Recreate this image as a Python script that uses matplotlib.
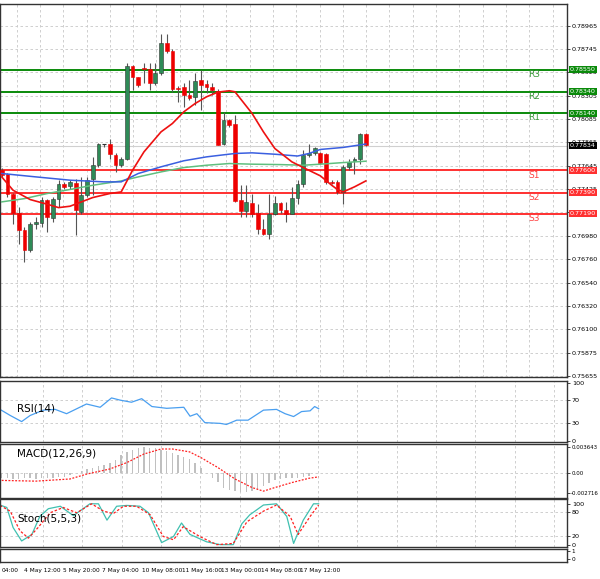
import matplotlib
matplotlib.use("Agg")
import matplotlib.pyplot as plt
from matplotlib.patches import Rectangle
import numpy as np

# ---------------- data ----------------
opens  = [0.77607,0.77563,0.77381,0.77198,0.77040,0.76845,0.77091,0.77103,0.77324,0.77154,
          0.77333,0.77469,0.77450,0.77484,0.77207,0.77365,0.77516,0.77648,0.77847,0.77847,
          0.77743,0.77648,0.77711,0.78584,0.78477,0.78562,0.78552,0.78426,0.78515,0.78798,
          0.78729,0.78376,0.78382,0.78310,0.78294,0.78452,0.78414,0.78382,0.78351,0.77853,
          0.78074,0.78033,0.77318,0.77217,0.77296,0.77198,0.77050,0.76996,0.77192,0.77292,
          0.77223,0.77192,0.77343,0.77475,0.77743,0.77759,0.77765,0.77752,0.77491,0.77491,
          0.77396,0.77633,0.77686,0.77711,0.77941]
highs  = [0.77626,0.77576,0.77387,0.77255,0.77066,0.77113,0.77160,0.77349,0.77333,0.77349,
          0.77507,0.77491,0.77507,0.77522,0.77538,0.77538,0.77727,0.77859,0.77853,0.77900,
          0.77759,0.77727,0.78609,0.78593,0.78483,0.78609,0.78609,0.78609,0.78886,0.78886,
          0.78741,0.78395,0.78420,0.78452,0.78515,0.78546,0.78452,0.78420,0.78363,0.78152,
          0.78089,0.78121,0.77459,0.77459,0.77374,0.77286,0.77144,0.77381,0.77355,0.77302,
          0.77302,0.77444,0.77507,0.77790,0.77853,0.77822,0.77774,0.77765,0.77507,0.77507,
          0.77648,0.77711,0.77727,0.77948,0.77948]
lows   = [0.77538,0.77349,0.77097,0.76908,0.76735,0.76829,0.77050,0.77066,0.77018,0.77113,
          0.77255,0.77428,0.77428,0.76987,0.77192,0.77349,0.77365,0.77633,0.77822,0.77711,
          0.77585,0.77633,0.77696,0.78357,0.78389,0.78420,0.78357,0.78404,0.78499,0.78704,
          0.78341,0.78247,0.78200,0.78262,0.78215,0.78174,0.78326,0.78310,0.77837,0.77837,
          0.78011,0.77302,0.77160,0.77160,0.77160,0.77003,0.76987,0.76955,0.77176,0.77198,
          0.77113,0.77185,0.77286,0.77444,0.77727,0.77743,0.77664,0.77475,0.77469,0.77381,
          0.77286,0.77601,0.77563,0.77664,0.77828]
closes = [0.77554,0.77381,0.77198,0.77034,0.76851,0.77097,0.77113,0.77324,0.77160,0.77333,
          0.77469,0.77444,0.77491,0.77223,0.77365,0.77513,0.77648,0.77853,0.77844,0.77752,
          0.77648,0.77711,0.78584,0.78477,0.78404,0.78555,0.78426,0.78515,0.78798,0.78729,
          0.78363,0.78370,0.78310,0.78278,0.78445,0.78404,0.78382,0.78357,0.77837,0.78074,
          0.78026,0.77311,0.77217,0.77302,0.77185,0.77050,0.76996,0.77192,0.77296,0.77223,
          0.77192,0.77343,0.77475,0.77743,0.77759,0.77806,0.77670,0.77491,0.77484,0.77396,
          0.77633,0.77680,0.77711,0.77941,0.77837]

ma_red_x = [0,2,5,8,10,12,14,16,19,21,23,25,28,30,32,34,36,38,40,41,44,46,48,51,53,56,58,59,60,62,64]
ma_red_y = [0.77538,0.77412,0.77324,0.77280,0.77248,0.77261,0.77302,0.77343,0.77381,0.77396,
            0.77601,0.77774,0.77963,0.78042,0.78152,0.78231,0.78294,0.78338,0.78351,0.78341,
            0.78137,0.77963,0.77806,0.77680,0.77626,0.77548,0.77459,0.77419,0.77396,0.77444,0.77500]
ma_blue_x = [0,6,12,18,21,24,28,32,36,41,44,48,52,54,56,60,64]
ma_blue_y = [0.77570,0.77538,0.77507,0.77491,0.77491,0.77570,0.77633,0.77690,0.77727,0.77759,
             0.77765,0.77752,0.77735,0.77759,0.77797,0.77816,0.77848]
ma_green_x = [0,4,8,12,16,21,24,28,32,36,40,44,49,53,56,60,64]
ma_green_y = [0.77302,0.77333,0.77381,0.77419,0.77459,0.77500,0.77538,0.77585,0.77626,0.77648,
              0.77664,0.77658,0.77654,0.77648,0.77658,0.77673,0.77686]

levels = [0.78550,0.78340,0.78140,0.77600,0.77390,0.77190]
level_names = ["R3","R2","R1","S1","S2","S3"]
last_price = 0.77834
price_ticks = [0.78965,0.78745,0.78525,0.78305,0.78085,0.77865,0.77645,0.77425,0.77205,
               0.76980,0.76760,0.76540,0.76320,0.76100,0.75875,0.75655]

rsi_x = [-0.3,1.5,3.5,5,7.3,9.4,11.4,14.9,17.3,19.3,20.8,22.8,24.6,26.4,29,32,33.1,34.3,35.7,
         38.4,39.5,41.3,43.3,46,48.3,49.8,51.3,52.7,54.2,55,55.7]
rsi_y = [54.4,43.8,33.1,43.8,53.1,54.4,46.9,63.8,58.1,74.4,70.6,66.9,73.1,59.4,56.3,58.1,42.5,
         46.9,31.3,30,28.1,35.6,35.6,53.1,54.4,46.9,41.9,50.6,51.9,59.4,55.6]

macd_hist = [-0.0006,-0.0007,-0.0008,-0.0008,-0.0007,-0.0007,-0.0008,-0.0007,-0.0006,-0.0006,
             -0.0005,-0.0005,-0.0003,0.0001,0.0003,0.0006,0.0008,0.0010,0.0011,0.0014,
             0.0019,0.0025,0.0030,0.0033,0.0035,0.0037,0.0036,0.0035,0.0033,0.0031,
             0.0028,0.0026,0.0023,0.0020,0.0015,0.0008,0.0000,-0.0006,-0.0012,-0.0020,
             -0.0024,-0.0025,-0.0026,-0.0026,-0.0025,-0.0022,-0.0018,-0.0014,-0.0010,-0.0008,
             -0.0007,-0.0006,-0.0006,-0.0005,-0.0004]
macd_sig_x = [0,6,12,15,19,22,25,28,30,33,35,38,41,44,46,48,51,54,55.7]
macd_sig_y = [-0.0010,-0.0011,-0.0008,-0.0001,0.0006,0.0015,0.0027,0.0034,0.0034,0.0030,
              0.0022,0.0008,-0.0008,-0.0020,-0.0025,-0.0020,-0.0013,-0.0007,-0.0005]

st_main_x = [-0.3,0.9,2.0,3.5,5.3,6.7,8.2,10.3,12.6,15.5,17.0,18.5,20.2,22.0,24.3,25.8,28.1,
             30.2,31.6,33.1,36.0,38.4,40.7,42.2,43.6,46.0,48.3,50.1,51.3,53.0,54.8,55.7]
st_main_y = [97,91,42,9,25,69,88,94,71,100,100,60,94,96,94,78,5,20,53,25,7,0,0,51,73,97,100,
             69,3,60,100,100]
st_sig_x = [-0.3,1.5,3.2,4.7,6.4,8.5,10.8,13.2,15.8,17.9,19.6,21.4,23.7,26.1,28.4,30.2,31.9,
            34.8,37.8,40.7,43.1,46.0,48.3,50.7,52.1,54.2,55.7]
st_sig_y = [96,82,34,16,42,78,91,78,100,82,76,94,94,73,20,12,44,20,0,3,56,82,97,69,25,69,97]

date_labels = ["04:00","4 May 12:00","5 May 20:00","7 May 04:00","10 May 08:00",
               "11 May 16:00","13 May 00:00","14 May 08:00","17 May 12:00"]
date_label_idx = [-0.3,3.6,10.4,17.3,24.3,31.3,38.2,45.2,52.1]

# ---------------- figure ----------------
W, H = 600, 579
fig = plt.figure(figsize=(W/100, H/100), dpi=100)
fig.patch.set_facecolor("white")
XL = (-0.3, 99.35)
AXW = 567/W

def mk(top_px, bot_px):
    return fig.add_axes([0, 1-bot_px/H, AXW, (bot_px-top_px)/H])

grid_kw = dict(color="#c8c8c8", lw=0.6, ls=(0, (3, 3)))
tick_fs = 4.6

def style(ax):
    ax.set_xlim(*XL)
    ax.yaxis.tick_right()
    ax.tick_params(axis="y", labelsize=tick_fs, length=2, pad=1.5, width=0.5)
    ax.set_xticks([])
    for s in ax.spines.values():
        s.set_linewidth(1.0)
        s.set_color("#333333")

# price panel
ax = mk(4, 377)
style(ax)
ax.set_ylim(0.75649, 0.79170)
for k in range(30):
    ax.axvline(-0.3 + (16.7 + 23.3*k)/5.69, **grid_kw, zorder=0)
for p in price_ticks:
    ax.axhline(p, **grid_kw, zorder=0)
ax.set_yticks(price_ticks)
ax.set_yticklabels([f"{p:.5f}" for p in price_ticks])

for i, (o, h, l, c) in enumerate(zip(opens, highs, lows, closes)):
    up = c >= o
    col = "#2e8b57" if up else "#ee0000"
    ax.vlines(i, l, h, color="#555555", lw=0.8, zorder=3)
    lo, hi = min(o, c), max(o, c)
    if hi - lo < 0.00003:
        ax.hlines(o, i-0.35, i+0.35, color="#333333", lw=0.8, zorder=4)
    else:
        ax.add_patch(Rectangle((i-0.33, lo), 0.66, hi-lo, facecolor=col,
                               edgecolor="#333333" if up else col, lw=0.4, zorder=4))

ax.plot(ma_green_x, ma_green_y, color="#5fbf7f", lw=1.1, zorder=5)
ax.plot(ma_blue_x, ma_blue_y, color="#3a5fe0", lw=1.1, zorder=5)
ax.plot(ma_red_x, ma_red_y, color="#ee1111", lw=1.2, zorder=5)
ax.axhline(last_price, color="#d0d0d0", lw=0.8, zorder=1)

for lv, nm in zip(levels, level_names):
    col = "#0a8a0a" if nm.startswith("R") else "#ff3030"
    ax.axhline(lv, color=col, lw=1.4, zorder=2)
    ax.text(93.5, lv - 0.00045, nm, color=("#3a9a3a" if nm.startswith("R") else "#ff4040"),
            fontsize=6.5, ha="center", va="center")
    ax.text(1.005, lv, f"{lv:.5f}", transform=ax.get_yaxis_transform(), fontsize=tick_fs,
            color="white", va="center", ha="left", zorder=10,
            bbox=dict(boxstyle="square,pad=0.15", fc=col, ec="none"))
ax.text(1.005, last_price, f"{last_price:.5f}", transform=ax.get_yaxis_transform(),
        fontsize=tick_fs, color="white", va="center", ha="left", zorder=10,
        bbox=dict(boxstyle="square,pad=0.15", fc="black", ec="none"))

# indicator grids x (pixels)
ind_vx = [(43 + 39.3*k - 1.7)/5.69 for k in range(14)]

# RSI
ar = mk(380.7, 441.7)
style(ar)
ar.set_ylim(-2.0, 104.5)
for v in ind_vx:
    ar.axvline(v, **grid_kw, zorder=0)
for g in (70, 30):
    ar.axhline(g, **grid_kw, zorder=0)
ar.set_yticks([100, 70, 30, 0])
ar.plot(rsi_x, rsi_y, color="#4a9ff0", lw=0.9)
ar.text(0.03, 0.55, "RSI(14)", transform=ar.transAxes, fontsize=7.5, va="center")

# MACD
am = mk(444, 497.7)
style(am)
am.set_ylim(-0.00342, 0.00410)
for v in ind_vx:
    am.axvline(v, **grid_kw, zorder=0)
am.axhline(0, **grid_kw, zorder=0)
am.set_yticks([0.003643, 0.0, -0.002716])
am.set_yticklabels(["0.003643", "0.00", "-0.002716"])
am.tick_params(axis="y", labelsize=3.9, pad=1)
am.bar(range(len(macd_hist)), macd_hist, width=0.25, color="#c0c0c0")
am.plot(macd_sig_x, macd_sig_y, color="#ff2020", lw=0.9, ls=(0, (1.5, 1.2)))
am.text(0.03, 0.82, "MACD(12,26,9)", transform=am.transAxes, fontsize=7.5, va="center")

# Stochastic
ast = mk(499.3, 546.7)
style(ast)
ast.set_ylim(-5, 111)
for v in ind_vx:
    ast.axvline(v, **grid_kw, zorder=0)
for g in (80, 20):
    ast.axhline(g, **grid_kw, zorder=0)
ast.set_yticks([100, 80, 20, 0])
ast.plot(st_main_x, st_main_y, color="#40c0b0", lw=0.9)
ast.plot(st_sig_x, st_sig_y, color="#ff2020", lw=0.9, ls=(0, (2, 1.5)))
ast.text(0.03, 0.6, "Stoch(5,5,3)", transform=ast.transAxes, fontsize=7.5, va="center")

# empty bottom panel
ae = mk(548.5, 562)
style(ae)
ae.set_ylim(-0.3, 1.3)
ae.set_yticks([1, 0])
ae.tick_params(axis="y", labelsize=4.2)

# date labels
for lab, xi in zip(date_labels, date_label_idx):
    xp = (1.7 + 5.69*(xi+0.3)) / W
    fig.text(max(xp, 0.002), 1-570.5/H, lab, fontsize=4.2, ha="left", va="center")

fig.savefig("out.png", dpi=100)
